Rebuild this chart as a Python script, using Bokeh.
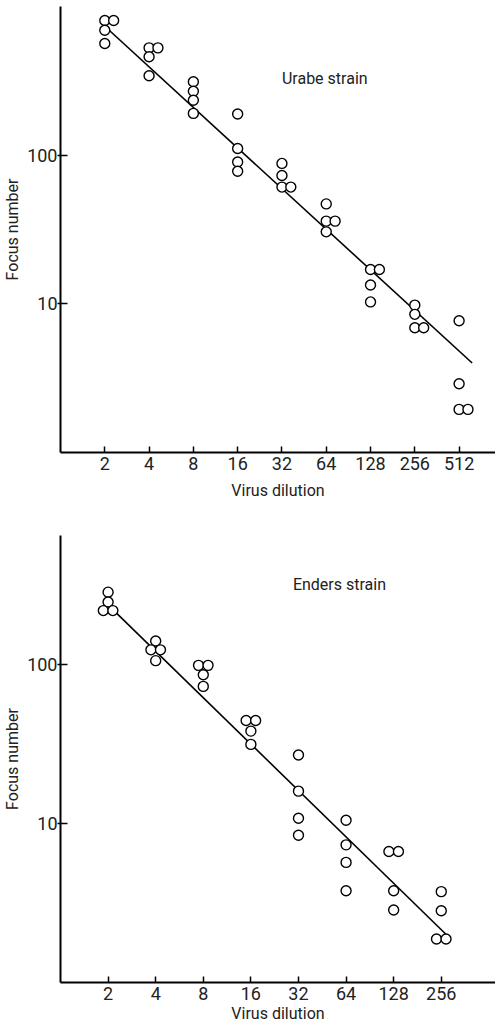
from bokeh.plotting import figure
from bokeh.layouts import column
from bokeh.models import FixedTicker, Label, Range1d
from bokeh.embed import file_html
from bokeh.resources import INLINE

FONT = "Roboto"

# ---------------- data: Urabe strain ----------------
urabe_dilution = [2, 2, 2, 2, 4, 4, 4, 4, 8, 8, 8, 8, 16, 16, 16, 16,
                  32, 32, 32, 32, 64, 64, 64, 64, 128, 128, 128, 128,
                  256, 256, 256, 256, 512, 512, 512, 512]
urabe_focus = [805, 805, 693, 564, 527, 527, 459, 342, 312, 269, 234, 191,
               189, 111, 90, 78, 88, 73, 61, 61, 47, 36, 36, 30.5,
               17, 17, 13.4, 10.3, 9.8, 8.5, 6.9, 6.9, 7.7, 2.9, 1.95, 1.95]
urabe_fit_x = [2.16, 628]
urabe_fit_y = [687, 4.0]
urabe_xticks = [2, 4, 8, 16, 32, 64, 128, 256, 512]
urabe_xlabels = ["2", "4", "8", "16", "32", "64", "128", "256", "512"]

# ---------------- data: Enders strain ----------------
enders_dilution = [2, 2, 2, 2, 4, 4, 4, 4, 8, 8, 8, 8, 16, 16, 16, 16,
                   32, 32, 32, 32, 64, 64, 64, 64, 128, 128, 128, 128,
                   256, 256, 256, 256]
enders_focus = [286, 248, 219, 219, 141, 124, 124, 106, 99, 99, 86.5, 73,
                44.5, 44.5, 38.2, 31.5, 27, 16, 10.8, 8.45, 10.5, 7.35, 5.7, 3.78,
                6.67, 6.67, 3.78, 2.86, 3.73, 2.83, 1.88, 1.88]
enders_fit_x = [2.26, 273]
enders_fit_y = [211, 2.02]
enders_xticks = [2, 4, 8, 16, 32, 64, 128, 256]
enders_xlabels = ["2", "4", "8", "16", "32", "64", "128", "256"]

yticks = [10, 100]
ylabels = ["10", "100"]


def side_by_side(xs, ys, shifts):
    """Place equal readings of one dilution next to each other (shift in doublings)."""
    counts = {}
    for x, y in zip(xs, ys):
        counts[(x, y)] = counts.get((x, y), 0) + 1
    seen = {}
    out = []
    for x, y in zip(xs, ys):
        k = seen.get((x, y), 0)
        seen[(x, y)] = k + 1
        if counts[(x, y)] > 1:
            out.append(x * 2 ** shifts[k])
        else:
            out.append(x)
    return out


def panel(height, left, top, bottom, xlab_standoff, x_end, y_end, xticks, xlabels,
          xs, ys, fit_x, fit_y, shifts, title, title_x, title_y):
    p = figure(width=495, height=height, x_axis_type="log", y_axis_type="log",
               x_range=Range1d(1, x_end), y_range=Range1d(1, y_end),
               output_backend="svg", toolbar_location=None,
               min_border_left=left, min_border_right=0,
               min_border_top=top, min_border_bottom=bottom)
    p.outline_line_color = None
    p.grid.visible = False
    p.background_fill_color = "white"
    p.border_fill_color = "white"

    xa = p.xaxis[0]
    xa.ticker = FixedTicker(ticks=xticks)
    xa.major_label_overrides = {t: s for t, s in zip(xticks, xlabels)}
    xa.major_tick_in = 6
    xa.major_tick_out = 0
    xa.axis_label = "Virus dilution"
    xa.axis_label_standoff = xlab_standoff
    xa.major_label_standoff = 4

    ya = p.yaxis[0]
    ya.ticker = FixedTicker(ticks=yticks)
    ya.major_label_overrides = {t: s for t, s in zip(yticks, ylabels)}
    ya.major_tick_in = 7
    ya.major_tick_out = 3
    ya.major_label_standoff = 0
    ya.axis_label = "Focus number"
    ya.axis_label_standoff = 2

    for ax in (xa, ya):
        ax.axis_line_width = 2
        ax.axis_line_color = "black"
        ax.major_tick_line_width = 1.5
        ax.major_tick_line_color = "black"
        ax.minor_tick_line_color = None
        ax.major_label_text_font = FONT
        ax.major_label_text_font_size = "18px"
        ax.major_label_text_color = "#222222"
        ax.axis_label_text_font = FONT
        ax.axis_label_text_font_size = "16px"
        ax.axis_label_text_font_style = "normal"
        ax.axis_label_text_color = "#222222"

    p.line(fit_x, fit_y, line_color="black", line_width=1.6)
    px = side_by_side(xs, ys, shifts)
    p.scatter(px, ys, marker="circle", size=10, fill_color="white",
              line_color="black", line_width=1.4)

    p.add_layout(Label(x=title_x, y=title_y, text=title, text_font=FONT,
                       text_font_size="16px", text_color="#222222",
                       text_baseline="alphabetic", text_align="left"))
    return p


top = panel(507, 53, 6, 55, 8, 905, 1000, urabe_xticks, urabe_xlabels,
            urabe_dilution, urabe_focus, urabe_fit_x, urabe_fit_y, (0, 0.2),
            "Urabe strain", 32, 330)
bottom = panel(518, 59, 28, 40, 1, 564, 650, enders_xticks, enders_xlabels,
               enders_dilution, enders_focus, enders_fit_x, enders_fit_y, (-0.1, 0.1),
               "Enders strain", 29.5, 320)

layout = column(top, bottom, spacing=0)
open("out.html", "w").write(file_html(layout, INLINE))
